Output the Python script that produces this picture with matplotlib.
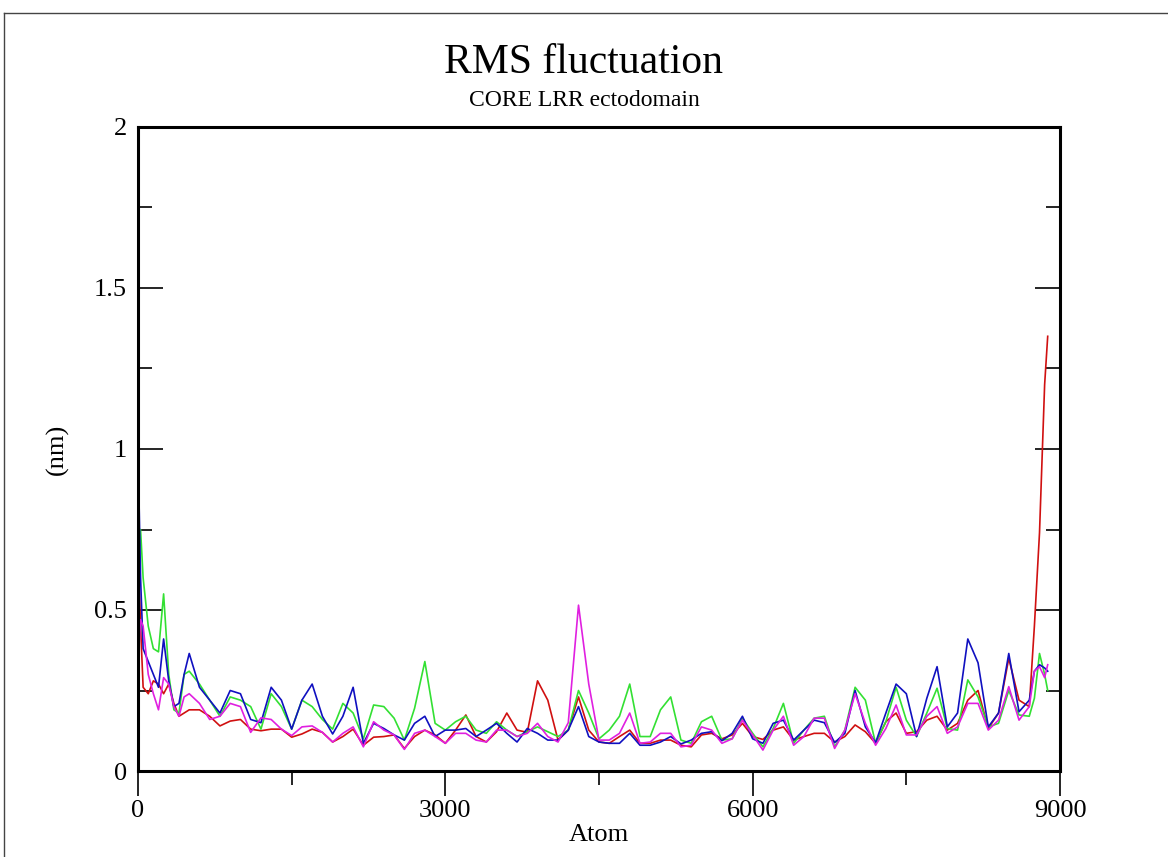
import matplotlib
matplotlib.use("Agg")
import matplotlib.pyplot as plt
from matplotlib.lines import Line2D
from matplotlib.ticker import MultipleLocator

plt.rcParams['font.family'] = ['Liberation Serif', 'DejaVu Serif']

# atom index grid the curves were read at
atom = [0, 25, 50] + list(range(100, 501, 50)) + list(range(600, 8701, 100)) + [8750, 8800, 8850, 8880]

red = [0.70, 0.45, 0.26, 0.24, 0.28, 0.27, 0.24, 0.27, 0.21, 0.17, 0.18, 0.19,
       0.19, 0.17, 0.14, 0.155, 0.16, 0.13, 0.125, 0.13, 0.13, 0.105, 0.115, 0.13, 0.12,
       0.09, 0.107, 0.13, 0.08, 0.105, 0.107, 0.112, 0.07, 0.107, 0.127, 0.112, 0.086,
       0.127, 0.174, 0.107, 0.09, 0.122, 0.18, 0.127, 0.12, 0.28, 0.22, 0.096, 0.127,
       0.23, 0.127, 0.09, 0.086, 0.107, 0.127, 0.086, 0.086, 0.096, 0.096, 0.08, 0.075,
       0.112, 0.117, 0.10, 0.112, 0.148, 0.107, 0.098, 0.127, 0.137, 0.096, 0.107, 0.117,
       0.117, 0.09, 0.107, 0.143, 0.122, 0.086, 0.153, 0.18, 0.117, 0.122, 0.158, 0.17,
       0.127, 0.148, 0.22, 0.25, 0.132, 0.18, 0.35, 0.22, 0.20,
       0.45, 0.74, 1.20, 1.35]

green = [0.60, 0.75, 0.60, 0.45, 0.38, 0.37, 0.55, 0.30, 0.19, 0.18, 0.30, 0.31,
         0.27, 0.22, 0.17, 0.23, 0.22, 0.20, 0.13, 0.24, 0.20, 0.13, 0.22, 0.20, 0.16,
         0.13, 0.21, 0.18, 0.10, 0.205, 0.20, 0.164, 0.096, 0.195, 0.34, 0.148, 0.127,
         0.153, 0.17, 0.127, 0.117, 0.153, 0.127, 0.107, 0.122, 0.137, 0.122, 0.107, 0.127,
         0.25, 0.18, 0.10, 0.127, 0.17, 0.27, 0.107, 0.107, 0.19, 0.23, 0.096, 0.086,
         0.153, 0.17, 0.096, 0.10, 0.164, 0.117, 0.075, 0.132, 0.21, 0.086, 0.127, 0.164,
         0.17, 0.075, 0.127, 0.26, 0.22, 0.086, 0.153, 0.26, 0.158, 0.107, 0.18, 0.257,
         0.132, 0.127, 0.283, 0.23, 0.137, 0.148, 0.25, 0.174, 0.17,
         0.226, 0.365, 0.30, 0.25]

blue = [1.00, 0.60, 0.38, 0.34, 0.30, 0.26, 0.41, 0.28, 0.20, 0.21, 0.30, 0.365,
        0.26, 0.22, 0.18, 0.25, 0.24, 0.16, 0.15, 0.26, 0.22, 0.13, 0.22, 0.27, 0.17,
        0.115, 0.17, 0.26, 0.086, 0.148, 0.132, 0.112, 0.096, 0.148, 0.17, 0.107, 0.127,
        0.127, 0.132, 0.107, 0.127, 0.148, 0.117, 0.09, 0.132, 0.117, 0.096, 0.096, 0.127,
        0.20, 0.107, 0.09, 0.086, 0.086, 0.117, 0.08, 0.08, 0.09, 0.107, 0.084, 0.096,
        0.117, 0.122, 0.094, 0.117, 0.17, 0.10, 0.086, 0.148, 0.158, 0.096, 0.127, 0.158,
        0.15, 0.088, 0.117, 0.25, 0.137, 0.088, 0.18, 0.27, 0.24, 0.107, 0.226, 0.324,
        0.137, 0.18, 0.41, 0.336, 0.137, 0.18, 0.365, 0.184, 0.22,
        0.31, 0.33, 0.32, 0.31]

magenta = [0.33, 0.47, 0.45, 0.30, 0.24, 0.19, 0.29, 0.27, 0.20, 0.17, 0.23, 0.24,
           0.21, 0.16, 0.17, 0.21, 0.20, 0.12, 0.165, 0.16, 0.13, 0.11, 0.137, 0.14, 0.12,
           0.09, 0.117, 0.137, 0.075, 0.153, 0.127, 0.112, 0.067, 0.117, 0.127, 0.107, 0.086,
           0.117, 0.117, 0.096, 0.09, 0.127, 0.127, 0.107, 0.117, 0.148, 0.107, 0.09, 0.15,
           0.515, 0.27, 0.096, 0.096, 0.117, 0.18, 0.086, 0.09, 0.117, 0.117, 0.075, 0.08,
           0.137, 0.127, 0.086, 0.10, 0.158, 0.112, 0.065, 0.127, 0.17, 0.08, 0.107, 0.164,
           0.164, 0.07, 0.127, 0.24, 0.148, 0.08, 0.132, 0.205, 0.112, 0.112, 0.17, 0.20,
           0.117, 0.137, 0.21, 0.21, 0.127, 0.158, 0.262, 0.158, 0.20,
           0.31, 0.324, 0.29, 0.33]

fig = plt.figure(figsize=(11.68, 8.57), dpi=100)
ax = fig.add_axes([138/1168, 1 - 771/857, 922/1168, 644/857])

ax.plot(atom, red, color='#d01010', lw=1.2)
ax.plot(atom, green, color='#33e033', lw=1.2)
ax.plot(atom, blue, color='#1010c0', lw=1.2)
ax.plot(atom, magenta, color='#e020e0', lw=1.2)

ax.set_xlim(0, 9000)
ax.set_ylim(0, 2)
ax.set_xticks([0, 3000, 6000, 9000])
ax.xaxis.set_minor_locator(MultipleLocator(1500))
ax.set_yticks([0, 0.5, 1, 1.5, 2])
ax.set_yticklabels(['0', '0.5', '1', '1.5', '2'])
ax.yaxis.set_minor_locator(MultipleLocator(0.25))

ax.tick_params(axis='x', which='major', direction='out', length=18, width=1.2,
               labelsize=19, pad=3, top=False)
ax.tick_params(axis='x', which='minor', direction='out', length=10, width=1.2, top=False)
ax.tick_params(axis='y', which='major', direction='in', length=18, width=1.2,
               labelsize=19, pad=8, right=True)
ax.tick_params(axis='y', which='minor', direction='in', length=10, width=1.2, right=True)
for s in ax.spines.values():
    s.set_linewidth(2.2)

ax.set_xlabel('Atom', fontsize=19, labelpad=1)
ax.set_ylabel('(nm)', fontsize=19, labelpad=18)

fig.text(0.5, 1 - 63/857, 'RMS fluctuation', ha='center', va='center', fontsize=30)
fig.text(0.5, 1 - 101/857, 'CORE LRR ectodomain', ha='center', va='center', fontsize=17)

# page frame lines seen at top and left edges
fig.add_artist(Line2D([4/1168, 1], [1 - 13/857, 1 - 13/857], transform=fig.transFigure,
                      color='#444444', lw=1))
fig.add_artist(Line2D([4/1168, 4/1168], [0, 1 - 13/857], transform=fig.transFigure,
                      color='#444444', lw=1))

fig.savefig('out.png', dpi=100)
